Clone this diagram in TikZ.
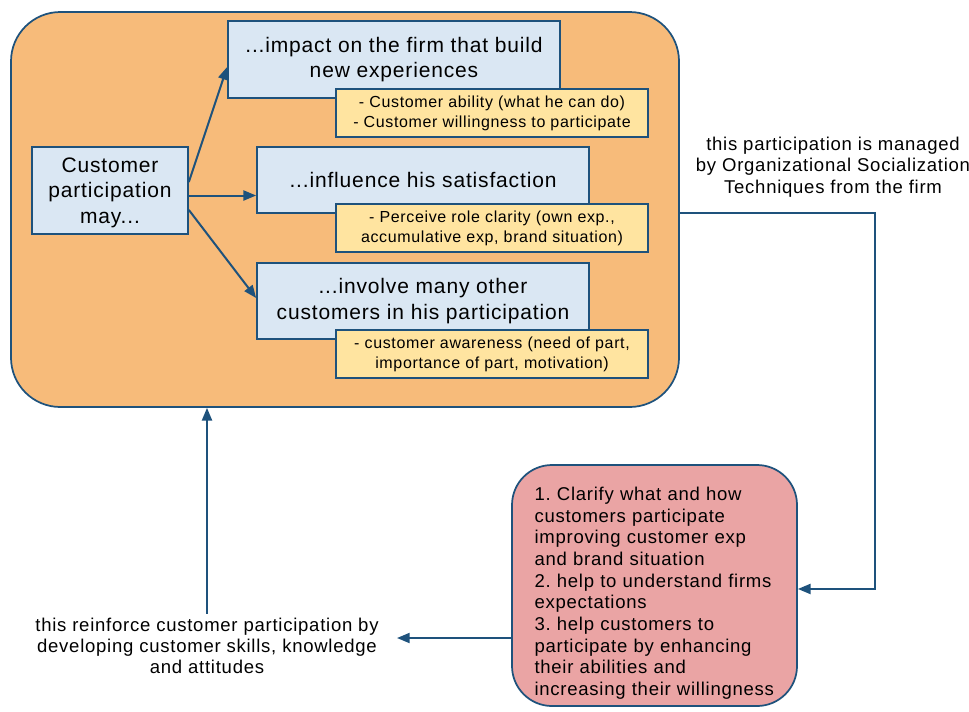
\documentclass[tikz,border=0pt]{standalone}
\usepackage{fontspec}
\setmainfont{Liberation Sans}[LetterSpace=4]
\usetikzlibrary{arrows.meta}
\definecolor{frameorange}{RGB}{247,187,122}
\definecolor{boxblue}{RGB}{218,231,243}
\definecolor{noteyellow}{RGB}{255,228,160}
\definecolor{techpink}{RGB}{234,164,164}
\definecolor{edgeblue}{RGB}{30,82,124}
\frenchspacing
\tikzset{
  mainbox/.style={draw=edgeblue, line width=1.3pt, fill=boxblue, align=center,
    font=\fontsize{15.75pt}{19pt}\selectfont, inner sep=0pt},
  notebox/.style={draw=edgeblue, line width=1.3pt, fill=noteyellow, align=center,
    font=\fontsize{12pt}{15pt}\selectfont, inner sep=0pt,
    minimum width=234pt, minimum height=36pt},
  sidetext/.style={align=center, font=\fontsize{13.9pt}{16pt}\selectfont, inner sep=3pt},
  link/.style={draw=edgeblue, line width=1.5pt, -{Triangle[length=9.5pt,width=7.5pt]}}
}
\begin{document}
\begin{tikzpicture}[x=0.75pt,y=-0.75pt]
\useasboundingbox (0,0) rectangle (969,711);

% outer frame holding the participation outcomes
\node[draw=edgeblue, line width=1.3pt, fill=frameorange, rounded corners=37pt,
      minimum width=501pt, minimum height=296.25pt, inner sep=0pt] (frame) at (345,209.5) {};

% source box
\node[mainbox, minimum width=117pt, minimum height=65.25pt] (cp) at (110,190.5)
  {\rule{0pt}{14.5pt}Customer\\participation\\may...};

% three outcomes
\node[mainbox, minimum width=249pt, minimum height=57.75pt] (b1) at (394,59.5)
  {...impact on the firm that build\\new experiences};
\node[mainbox, minimum width=249pt, minimum height=49.5pt] (b2) at (423,180)
  {...influence his satisfaction};
\node[mainbox, minimum width=249pt, minimum height=57pt] (b3) at (423,301)
  {...involve many other\\customers in his participation};

% notes attached to each outcome
\node[notebox] (n1) at (492,113)
  {- Customer ability (what he can do)\\- Customer willingness to participate};
\node[notebox] (n2) at (492,228)
  {- Perceive role clarity (own exp.,\\accumulative exp, brand situation)};
\node[notebox] (n3) at (492,354)
  {- customer awareness (need of part,\\importance of part, motivation)};

% arrows from the source box
\draw[link] ([yshift=6.4pt]cp.east) -- ([yshift=-5.6pt]b1.west);
\draw[link] ([yshift=-3.75pt]cp.east) -- ([yshift=-3.75pt]cp.east -| b2.west);
\draw[link] ([yshift=-14.6pt]cp.east) -- ([yshift=2.25pt]b3.west);

% socialization techniques
\node[draw=edgeblue, line width=1.3pt, fill=techpink, rounded corners=30pt,
      minimum width=213.75pt, minimum height=180.75pt, text width=180pt,
      align=left, font=\fontsize{13.9pt}{16.25pt}\selectfont, inner xsep=16pt] (tech) at (654.5,585.5)
  {\rule{0pt}{21.5pt}1. Clarify what and how\\customers participate\\improving customer exp\\and brand situation\\2. help to understand firms\\expectations\\3. help customers to\\participate by enhancing\\their abilities and\\increasing their willingness};

\node[sidetext] (managed) at (833,167)
  {this participation is managed\\by Organizational Socialization\\Techniques from the firm};
\node[sidetext] (reinf) at (207,646)
  {this reinforce customer participation by\\developing customer skills, knowledge\\and attitudes};

% feedback loop
\coordinate (turn) at (875,213);
\coordinate (lefttip) at (397,638);
\draw[link] (frame.east |- turn) -- (turn) |- ([yshift=-2.6pt]tech.east);
\draw[link] (tech.west |- lefttip) -- (lefttip);
\draw[link] (reinf.north) -- (reinf.north |- frame.south);
\end{tikzpicture}
\end{document}
